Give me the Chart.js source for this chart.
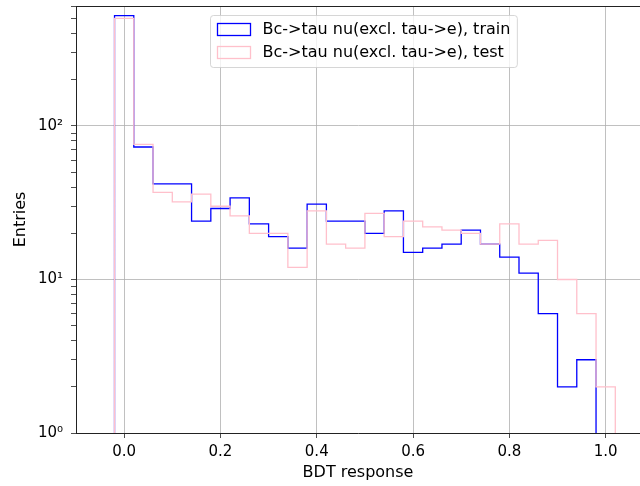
<!DOCTYPE html>
<html>
<head>
<meta charset="utf-8">
<script src="https://cdn.jsdelivr.net/npm/chart.js@4.4.1/dist/chart.umd.min.js"></script>
<style>
  body { margin: 0; background: #fff; }
  #wrap { width: 640px; height: 486px; overflow: hidden; }
</style>
</head>
<body>
<div id="wrap"><canvas id="chart" width="640" height="486"></canvas></div>
<script>
// bin edges of the BDT response histogram (width 0.04)
const binEdges = [-0.02, 0.02, 0.06, 0.10, 0.14, 0.18, 0.22, 0.26, 0.30, 0.34, 0.38, 0.42, 0.46,
  0.50, 0.54, 0.58, 0.62, 0.66, 0.70, 0.74, 0.78, 0.82, 0.86, 0.90, 0.94, 0.98, 1.02];
const trainCounts = [524, 73, 42, 42, 24, 29, 34, 23, 19, 16, 31, 24, 24, 20, 28, 15, 16, 17, 21, 17, 14, 11, 6, 2, 3, 0];
const testCounts = [503, 76, 37, 32, 36, 30, 26, 20, 20, 12, 28, 17, 16, 27, 19, 24, 22, 21, 20, 17, 23, 17, 18, 10, 6, 2];
const trainLabel = "Bc->tau nu(excl. tau->e), train";
const testLabel = "Bc->tau nu(excl. tau->e), test";
const xTicks = [0.0, 0.2, 0.4, 0.6, 0.8, 1.0];
const yMajor = [1, 10, 100];
const supDigits = ["\u2070", "\u00b9", "\u00b2", "\u00b3"];

const FONT = "'DejaVu Sans', sans-serif";
const BASE = 0.5; // below the log axis, gets clipped

// histogram outline: one point at each left edge, closed down to the baseline
function stepPoints(counts) {
  const pts = [{ x: binEdges[0], y: BASE }];
  counts.forEach((c, i) => pts.push({ x: binEdges[i], y: c > 0 ? c : BASE }));
  pts.push({ x: binEdges[binEdges.length - 1], y: BASE });
  return pts;
}

const yTicks = [];
yMajor.forEach(d => { for (let k = 1; k < 10; k++) if (d * k <= 605) yTicks.push(d * k); });

const frame = {
  id: "frame",
  afterDraw(chart) {
    const { ctx, chartArea } = chart;
    ctx.save();
    ctx.strokeStyle = "#222";
    ctx.lineWidth = 1;
    ctx.beginPath();
    ctx.moveTo(chartArea.left, chartArea.top + 0.5);
    ctx.lineTo(chartArea.right, chartArea.top + 0.5);
    ctx.stroke();

    // legend box, upper centre
    ctx.font = "16px " + FONT;
    const items = [[trainLabel, "blue"], [testLabel, "pink"]];
    const tw = Math.max(...items.map(it => ctx.measureText(it[0]).width));
    const w = 7 + 33 + 12 + tw + 7;
    const h = 52;
    const x0 = Math.round(363 - w / 2) + 0.5;
    const y0 = chartArea.top + 9.5;
    ctx.beginPath();
    ctx.roundRect(x0, y0, w, h, 3);
    ctx.fillStyle = "rgba(255,255,255,0.8)";
    ctx.fill();
    ctx.strokeStyle = "rgba(204,204,204,0.8)";
    ctx.stroke();
    items.forEach((it, i) => {
      const cy = y0 + 13 + i * 23.5;
      ctx.strokeStyle = it[1];
      ctx.lineWidth = 1.3;
      ctx.strokeRect(x0 + 7, Math.round(cy - 6) + 0.5, 33, 12);
      ctx.fillStyle = "#000";
      ctx.textBaseline = "middle";
      ctx.fillText(it[0], x0 + 52, cy + 1);
    });
    ctx.restore();
  }
};

new Chart(document.getElementById("chart"), {
  type: "line",
  data: {
    datasets: [
      { label: testLabel, data: stepPoints(testCounts), borderColor: "pink", borderWidth: 1.3,
        stepped: "before", pointRadius: 0, fill: false, order: 0 },
      { label: trainLabel, data: stepPoints(trainCounts), borderColor: "blue", borderWidth: 1.3,
        stepped: "before", pointRadius: 0, fill: false, order: 1 }
    ]
  },
  options: {
    responsive: false,
    animation: false,
    layout: { padding: { top: 6, right: 0, bottom: 0, left: 0 } },
    plugins: { legend: { display: false }, tooltip: { enabled: false } },
    scales: {
      x: {
        type: "linear",
        min: -0.1,
        max: 1.0713,
        afterFit(s) { s.height = 53; s.paddingLeft = 0; s.paddingRight = 0; },
        afterBuildTicks(s) { s.ticks = xTicks.map(v => ({ value: v })); },
        ticks: { color: "#000", font: { family: FONT, size: 15 }, padding: 5, maxRotation: 0,
          callback: v => Number(v).toFixed(1) },
        grid: { color: "#b0b0b0", lineWidth: 0.8, tickColor: "#222", tickLength: 5 },
        border: { color: "#222", width: 1 },
        title: { display: true, text: "BDT response", color: "#000",
          font: { family: FONT, size: 16 }, padding: { top: 0, bottom: 3.5 } }
      },
      y: {
        type: "logarithmic",
        min: 1,
        max: 605,
        afterFit(s) { s.width = 76; s.paddingTop = 0; s.paddingBottom = 0; },
        afterBuildTicks(s) { s.ticks = yTicks.map(v => ({ value: v, major: yMajor.includes(v) })); },
        ticks: { color: "#000", font: { family: FONT, size: 15 }, padding: 8, autoSkip: false,
          callback: v => yMajor.includes(v) ? "10" + supDigits[Math.round(Math.log10(v))] : "" },
        grid: {
          color: c => (c.tick && yMajor.includes(c.tick.value)) ? "#b0b0b0" : "rgba(0,0,0,0)",
          lineWidth: 0.8, tickColor: "#222", tickLength: 5
        },
        border: { color: "#222", width: 1 },
        title: { display: true, text: "Entries", color: "#000",
          font: { family: FONT, size: 16 }, padding: { top: 11.5, bottom: 0 } }
      }
    }
  },
  plugins: [frame]
});
</script>
</body>
</html>
